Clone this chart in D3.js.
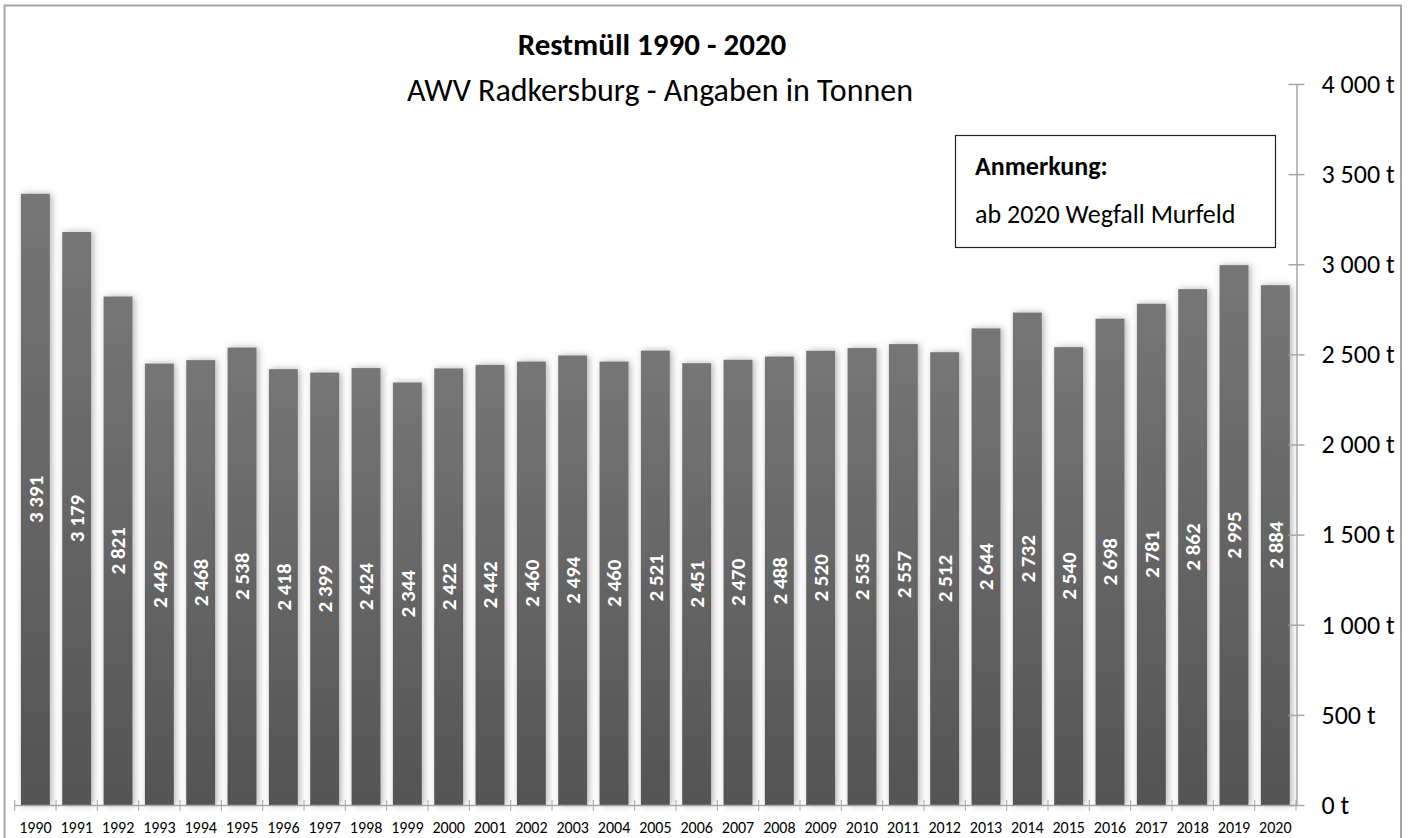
<!DOCTYPE html>
<html><head><meta charset="utf-8">
<script src="https://cdn.jsdelivr.net/npm/d3@7"></script>
<style>body{margin:0;background:#fff}svg{display:block}text{font-family:Carlito,"Open Sans","Liberation Sans",sans-serif}</style>
</head><body>
<svg id="c" width="1416" height="838"></svg>
<script>
const years = ["1990","1991","1992","1993","1994","1995","1996","1997","1998","1999","2000","2001","2002","2003","2004","2005","2006","2007","2008","2009","2010","2011","2012","2013","2014","2015","2016","2017","2018","2019","2020"];
const values = [3391,3179,2821,2449,2468,2538,2418,2399,2424,2344,2422,2442,2460,2494,2460,2521,2451,2470,2488,2520,2535,2557,2512,2644,2732,2540,2698,2781,2862,2995,2884];
const yTicks = [0,500,1000,1500,2000,2500,3000,3500,4000];
const title = "Restmüll 1990 - 2020";
const subtitle = "AWV Radkersburg - Angaben in Tonnen";
const noteTitle = "Anmerkung:";
const noteText = "ab 2020 Wegfall Murfeld";

const svg = d3.select("#c");
const fmt = v => d3.format(",")(v).replace(/,/g, " ");
const defs = svg.append("defs");
const g1 = defs.append("linearGradient").attr("id","bg").attr("x1",0).attr("y1",0).attr("x2",0).attr("y2",1);
g1.append("stop").attr("offset","0%").attr("stop-color","#767676");
g1.append("stop").attr("offset","100%").attr("stop-color","#545454");
const f = defs.append("filter").attr("id","sh").attr("x","-50%").attr("y","-10%").attr("width","200%").attr("height","120%");
f.append("feDropShadow").attr("dx",2).attr("dy",0).attr("stdDeviation",3.5).attr("flood-color","#000").attr("flood-opacity",0.3);

// outer frame
svg.append("rect").attr("x",4.5).attr("y",5.5).attr("width",1396.5).attr("height",840).attr("fill","none").attr("stroke","#a6a6a6").attr("stroke-width",2);

const x = d3.scaleBand().domain(years).range([14.7,1296]).paddingInner(0.3).paddingOuter(0.15);
const y = d3.scaleLinear().domain([0,4000]).range([805,84]);

// bars
svg.append("g").selectAll("rect").data(values).join("rect")
  .attr("x",(d,i)=>x(years[i])).attr("width",x.bandwidth())
  .attr("y",d=>y(d)).attr("height",d=>y(0)-y(d))
  .attr("fill","url(#bg)").attr("filter","url(#sh)");

// x axis
const xa = d3.axisBottom(x).tickSize(0).tickPadding(0).tickFormat(d=>d);
const xg = svg.append("g").attr("transform","translate(0,805)").call(xa);
xg.select(".domain").attr("stroke","#a6a6a6").attr("stroke-width",1.5);
xg.selectAll("text").attr("font-size",16).attr("fill","#000").attr("dy",0).attr("y",28);
// category boundary ticks
const bounds = years.map(yr=>x(yr)-x.step()*x.paddingInner()/2).concat([1296]);
bounds[0] = 14.7;
svg.append("g").selectAll("line").data(bounds).join("line")
  .attr("x1",d=>d).attr("x2",d=>d).attr("y1",800).attr("y2",811)
  .attr("stroke","#a6a6a6").attr("stroke-width",1);

// y axis right
const ya = d3.axisRight(y).tickValues(yTicks).tickSize(0).tickFormat(d=>fmt(d)+" t");
const yg = svg.append("g").attr("transform","translate(1296.5,0)").call(ya);
yg.select(".domain").attr("stroke","#a6a6a6").attr("stroke-width",1.5);
yg.selectAll(".tick line").attr("x1",-8).attr("x2",8).attr("stroke","#a6a6a6").attr("stroke-width",1.5);
yg.selectAll("text").attr("x",25).attr("font-size",26).attr("fill","#000");

// data labels
svg.append("g").selectAll("text").data(values).join("text")
  .attr("transform",(d,i)=>`translate(${x(years[i])+x.bandwidth()/2},${(y(d)+y(0))/2}) rotate(-90)`)
  .attr("text-anchor","middle").attr("dy","0.35em").attr("font-size",21).attr("font-weight","bold").attr("fill","#fff")
  .text(d=>fmt(d));

// titles
svg.append("text").attr("x",652).attr("y",55).attr("text-anchor","middle").attr("font-size",31).attr("font-weight","bold").text(title);
svg.append("text").attr("x",660).attr("y",101).attr("text-anchor","middle").attr("font-size",32).text(subtitle);

// note box
svg.append("rect").attr("x",955.5).attr("y",135.5).attr("width",320).attr("height",112).attr("fill","#fff").attr("stroke","#222").attr("stroke-width",1.2);
svg.append("text").attr("x",975).attr("y",175).attr("font-size",26).attr("font-weight","bold").text(noteTitle);
svg.append("text").attr("x",975).attr("y",223).attr("font-size",26).text(noteText);
</script>
</body></html>
